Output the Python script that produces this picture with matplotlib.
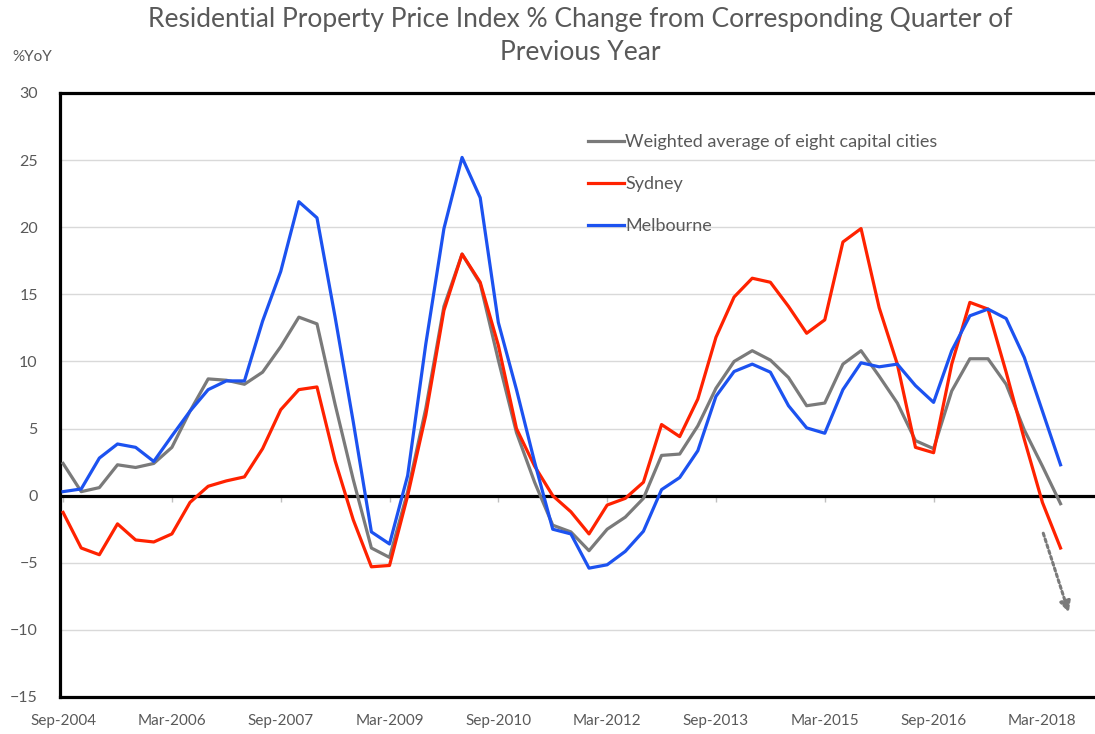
import numpy as np
import pandas as pd
import matplotlib
matplotlib.use("Agg")
import matplotlib.pyplot as plt

# quarterly, Sep-2004 .. Jun-2018
quarters = [d.strftime("%b-%Y") for d in pd.date_range("2004-09-01", "2018-06-01", freq="3MS")]

# Weighted average of eight capital cities
weighted = [2.4, 0.3, 0.6, 2.3, 2.1, 2.4, 3.6, 6.3, 8.7, 8.6,
            8.3, 9.2, 11.1, 13.3, 12.8, 6.8, 1.2, -3.9, -4.6, 0.3,
            6.5, 14.1, 18.0, 15.8, 10.1, 4.7, 1.0, -2.2, -2.7, -4.1,
            -2.5, -1.6, -0.2, 3.0, 3.1, 5.2, 8.0, 10.0, 10.8, 10.1,
            8.8, 6.7, 6.9, 9.8, 10.8, 8.9, 6.9, 4.1, 3.5, 7.8,
            10.2, 10.2, 8.3, 4.9, 2.2, -0.6]

sydney = [-1.25, -3.9, -4.4, -2.1, -3.3, -3.45, -2.85, -0.5, 0.7, 1.1,
          1.4, 3.5, 6.4, 7.9, 8.1, 2.6, -1.8, -5.3, -5.2, 0.0,
          6.0, 13.8, 18.0, 15.9, 11.2, 5.0, 2.2, 0.0, -1.2, -2.85,
          -0.7, -0.2, 1.0, 5.3, 4.4, 7.2, 11.8, 14.8, 16.2, 15.9,
          14.1, 12.1, 13.1, 18.9, 19.9, 14.0, 9.8, 3.6, 3.2, 9.8,
          14.4, 13.9, 9.2, 4.2, -0.5, -3.9]

melbourne = [0.3, 0.5, 2.8, 3.85, 3.6, 2.55, 4.45, 6.3, 7.9, 8.55,
             8.55, 13.0, 16.7, 21.9, 20.7, 13.3, 5.5, -2.7, -3.6, 1.5,
             11.3, 19.9, 25.2, 22.2, 12.9, 7.9, 2.5, -2.5, -2.85, -5.4,
             -5.15, -4.15, -2.65, 0.45, 1.35, 3.35, 7.4, 9.25, 9.8, 9.2,
             6.7, 5.05, 4.65, 7.9, 9.9, 9.6, 9.8, 8.2, 6.95, 10.8,
             13.4, 13.9, 13.2, 10.3, 6.3, 2.3]

# dotted "further falls" arrow (start, end) in data units
arrow_start = (54.0, -2.6)
arrow_end = (55.5, -8.9)

plt.rcParams['font.family'] = ['Lato', 'DejaVu Sans']
txt = '#595959'

fig = plt.figure(figsize=(10.95, 7.34), dpi=100)
ax = fig.add_axes([60 / 1095, 37 / 734, 1 - 60 / 1095, 604 / 734])

x = np.arange(len(quarters))
ax.plot(x, weighted, color='#7a7a7a', lw=2.3, label='Weighted average of eight capital cities', zorder=3)
ax.plot(x, sydney, color='#ff2200', lw=2.3, label='Sydney', zorder=3)
ax.plot(x, melbourne, color='#1c52f0', lw=2.3, label='Melbourne', zorder=4)

ax.annotate('', xy=arrow_end, xytext=arrow_start,
            arrowprops=dict(arrowstyle='-|>', color='#7a7a7a', lw=2.2,
                            linestyle=(0, (1, 1)), mutation_scale=16))

ax.set_xlim(-0.17, 56.9)
ax.set_ylim(-15, 30)
ax.set_yticks(range(-15, 31, 5))
ax.yaxis.grid(True, color='#d9d9d9', lw=1)
ax.set_axisbelow(True)

ax.set_xticks(x[::6])
ax.set_xticklabels(quarters[::6])
ax.tick_params(axis='x', length=0, pad=12, labelsize=11, labelcolor=txt)
ax.tick_params(axis='y', length=0, pad=16, labelsize=11.5, labelcolor=txt)

for s in ['top', 'left', 'bottom']:
    ax.spines[s].set_linewidth(2.3)
    ax.spines[s].set_color('black')
ax.spines['right'].set_visible(False)

# zero line with small tick marks
ax.axhline(0, color='black', lw=2.3, zorder=2)
zero = ax.secondary_xaxis(1 / 3)
zero.set_xticks(x[::6], labels=[''] * len(x[::6]))
zero.tick_params(axis='x', length=4, width=1, color='#bfbfbf', direction='out')
for s in zero.spines.values():
    s.set_visible(False)

leg = ax.legend(loc='upper left', bbox_to_anchor=(579 / 1095, (734 - 125) / 734),
                bbox_transform=fig.transFigure, frameon=False, fontsize=13,
                handlelength=2.0, handletextpad=0.05, labelspacing=1.45, borderpad=0)
for t in leg.get_texts():
    t.set_color(txt)

fig.text(580 / 1095, 1 - 20 / 734, 'Residential Property Price Index % Change from Corresponding Quarter of',
         ha='center', va='center', fontsize=19, color=txt)
fig.text(580 / 1095, 1 - 53 / 734, 'Previous Year', ha='center', va='center', fontsize=19, color=txt)
fig.text(12 / 1095, 1 - 57 / 734, '%YoY', ha='left', va='center', fontsize=11, color=txt)

fig.savefig('out.png', dpi=100)
